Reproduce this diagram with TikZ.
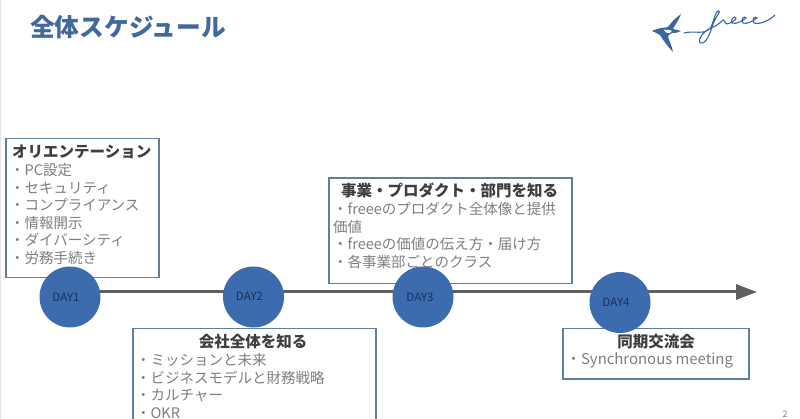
\documentclass[tikz,border=0pt]{standalone}
\usepackage{fontspec}
\setmainfont{Noto Sans CJK JP}
\usetikzlibrary{arrows.meta}
\definecolor{titleblue}{HTML}{41699C}
\definecolor{boxline}{HTML}{5F7F9F}
\definecolor{circlefill}{HTML}{3C6CAE}
\definecolor{daytext}{HTML}{14305E}
\definecolor{headtext}{HTML}{3F3F3F}
\definecolor{itemtext}{HTML}{7F7F7F}
\definecolor{axisgray}{HTML}{5F5F5F}
\definecolor{logoblue}{HTML}{38689F}
\tikzset{
  x=1pt,y=-1pt,
  boxrect/.style={draw=boxline,line width=1.5pt,fill=white,anchor=north west,inner sep=0pt},
  dayc/.style={circle,fill=circlefill,minimum size=61pt,inner sep=0pt},
  dayt/.style={inner sep=0pt,text=daytext,font=\fontsize{11.5pt}{13pt}\selectfont},
  headt/.style={inner sep=0pt,text=headtext,font=\fontsize{15.5pt}{18pt}\selectfont\bfseries},
  itemt/.style={inner sep=0pt,anchor=north west,align=left,text=itemtext,font=\fontsize{14.5pt}{17.5pt}\selectfont},
}
\begin{document}
\begin{tikzpicture}
\useasboundingbox (0,0) rectangle (800,419);
\fill[white] (0,0) rectangle (800,419);
\fill[black!10] (0,0) rectangle (1.2,419);
\node[inner sep=0pt,anchor=west,text=titleblue,font=\fontsize{24.7pt}{28pt}\selectfont\bfseries] (title) at (30,27) {全体スケジュール};
% logo
\fill[logoblue] (652,31) .. controls (660,27) and (666,28) .. (668,27) .. controls (672,21) and (677,17) .. (681,14)
  .. controls (679,20) and (675,25) .. (673,29) .. controls (676,30) and (679,30) .. (681,31)
  .. controls (678,33) and (675,33) .. (672,33) .. controls (669,34) and (668,36) .. (668,37)
  .. controls (670,42) and (672,47) .. (673,52) .. controls (668,47) and (663,40) .. (660,35) .. controls (657,33) and (654,32) .. (652,31) -- cycle;
\fill[white] (664,30) .. controls (667,29) and (670,30) .. (672,31) .. controls (670,34) and (666,34) .. (664,30) -- cycle;
\draw[logoblue,line width=1.1pt,line cap=round] (684,33) .. controls (695,30) and (705,36) .. (711,27)
  .. controls (714,20) and (716,11) .. (718,11) .. controls (722,11) and (717,14) .. (713,24)
  .. controls (710,33) and (707,44) .. (700,43) .. controls (697,41) and (703,31) .. (711,28)
  .. controls (716,26) and (719,24) .. (723,20) .. controls (724,19) and (725,24) .. (727,24)
  .. controls (731,23) and (736,20) .. (736,18) .. controls (734,15) and (730,20) .. (732,23)
  .. controls (736,25) and (744,20) .. (746,18) .. controls (744,15) and (740,20) .. (743,23)
  .. controls (747,25) and (754,20) .. (757,18) .. controls (755,15) and (751,20) .. (754,23)
  .. controls (760,25) and (770,20) .. (775,15);
% axis
\coordinate (axisstart) at (70,292);
\coordinate (axisend) at (757,292);
\draw[axisgray,line width=3pt,-{Triangle[length=21pt,width=15pt]}] (axisstart) -- (axisend);
% boxes
\node[boxrect,minimum width=153pt,minimum height=139pt] (box1) at (5,138) {};
\node[boxrect,minimum width=243pt,minimum height=105.5pt] (box3) at (328,177.5) {};
\begin{scope}
\clip (0,0) rectangle (800,419);
\node[boxrect,minimum width=243pt,minimum height=110pt] (box2) at (132,328) {};
\end{scope}
\node[boxrect,minimum width=186pt,minimum height=50pt] (box4) at (562,328) {};
% circles
\node[dayc] (d1) at (70,297) {};
\node[dayc] (d2) at (253.5,297) {};
\node[dayc] (d3) at (423,297) {};
\node[dayc] (d4) at (620,302.5) {};
\node[dayt] (l1) at (66,297) {DAY1};
\node[dayt] (l2) at (249.5,296) {DAY2};
\node[dayt] (l3) at (420,297) {DAY3};
\node[dayt] (l4) at (616,302.5) {DAY4};
% box 1
\node[headt,anchor=west] (h1) at (12,152) {オリエンテーション};
\node[itemt] (t1) at (10,163.5) {・PC設定\\・セキュリティ\\・コンプライアンス\\・情報開示\\・ダイバーシティ\\・労務手続き};
% box 3
\node[headt] (h3) at (449.5,190.5) {事業・プロダクト・部門を知る};
\node[itemt] (t3) at (333,202.5) {・freeeのプロダクト全体像と提供\\価値\\・freeeの価値の伝え方・届け方\\・各事業部ごとのクラス};
% box 2
\node[headt] (h2) at (253,341.5) {会社全体を知る};
\begin{scope}
\clip (0,0) rectangle (800,419);
\node[itemt] (t2) at (136,353.5) {・ミッションと未来\\・ビジネスモデルと財務戦略\\・カルチャー\\・OKR};
\end{scope}
% box 4
\node[headt] (h4) at (656,341.5) {同期交流会};
\node[itemt,font=\fontsize{14.9pt}{17.5pt}\selectfont] (t4) at (566,352) {・Synchronous meeting};
\node[inner sep=0pt,text=itemtext,font=\fontsize{9pt}{11pt}\selectfont] (pg) at (785,414) {2};
\end{tikzpicture}
\end{document}
